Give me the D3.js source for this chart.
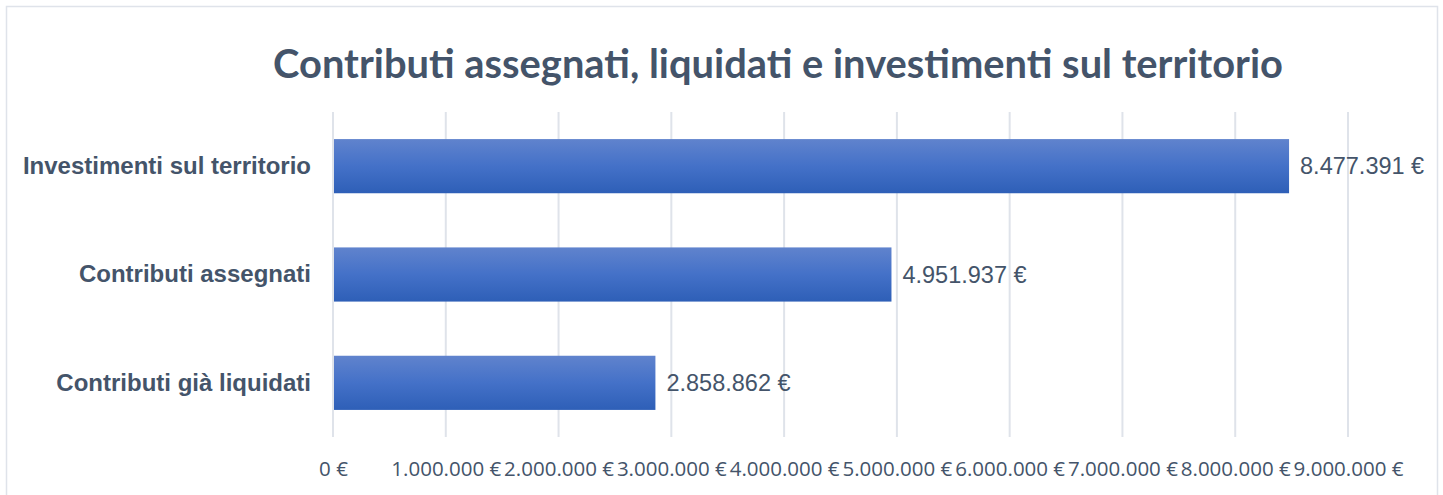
<!DOCTYPE html>
<html>
<head>
<meta charset="utf-8">
<script src="https://cdn.jsdelivr.net/npm/d3@7"></script>
<style>
  html, body { margin: 0; padding: 0; background: #fff; }
  svg { display: block; }
</style>
</head>
<body>
<div id="chart"></div>
<script>
'use strict';

const categories = ['Investimenti sul territorio', 'Contributi assegnati', 'Contributi già liquidati'];
const values = [8477391, 4951937, 2858862];
const tickValues = [0, 1000000, 2000000, 3000000, 4000000, 5000000, 6000000, 7000000, 8000000, 9000000];
const title = 'Contributi assegnati, liquidati e investimenti sul territorio';

const humanNumber = v => v.toString().replace(/\B(?=(\d{3})+(?!\d))/g, '.');
const toEuro = v => `${humanNumber(v)} €`;

const config = { width: 1443, height: 495 };
const margin = { top: 112, right: 95, bottom: 58, left: 333 };
const width = config.width - margin.left - margin.right;
const height = config.height - margin.top - margin.bottom;
const textColour = '#44546a';
const gridColour = '#dfe3ea';

const svg = d3.select('#chart').append('svg')
  .attr('width', config.width)
  .attr('height', config.height);

// gradient for bars
const grad = svg.append('defs').append('linearGradient')
  .attr('id', 'barGrad')
  .attr('x1', 0).attr('y1', 0).attr('x2', 0).attr('y2', 1);
grad.append('stop').attr('offset', '0%').attr('stop-color', '#6083cd');
grad.append('stop').attr('offset', '50%').attr('stop-color', '#4471c8');
grad.append('stop').attr('offset', '100%').attr('stop-color', '#2e5fb7');

// outer border
svg.append('rect')
  .attr('x', 6.5).attr('y', 6.5)
  .attr('width', 1431).attr('height', 495)
  .attr('fill', '#fff')
  .attr('stroke', '#dfe3ea')
  .attr('stroke-width', 1.5);

// title
const titleText = svg.append('text')
  .attr('x', 778)
  .attr('y', 78)
  .attr('text-anchor', 'middle')
  .style('font-family', 'Lato, "Open Sans", sans-serif')
  .style('font-weight', 'bold')
  .style('font-size', '34px')
  .attr('fill', textColour)
  .text(title);
// fit the title width to the reference
const tw = titleText.node().getComputedTextLength();
titleText.style('font-size', `${34 * 1010 / tw}px`);

const x = d3.scaleLinear().domain([0, 9000000]).range([0, width]);
const y = d3.scaleBand().domain(categories).range([0, height]).paddingInner(0.5).paddingOuter(0.25);

const g = svg.append('g').attr('transform', `translate(${margin.left},${margin.top})`);

// gridlines
g.selectAll('.grid')
  .data(tickValues)
  .enter()
  .append('line')
  .attr('class', 'grid')
  .attr('x1', d => x(d)).attr('x2', d => x(d))
  .attr('y1', 0).attr('y2', height)
  .attr('stroke', gridColour)
  .attr('stroke-width', 2);

// x axis labels
g.append('g')
  .attr('transform', `translate(0,${height})`)
  .call(d3.axisBottom(x).tickValues(tickValues).tickSize(0).tickPadding(24).tickFormat(toEuro))
  .call(ax => ax.select('.domain').remove())
  .selectAll('text')
  .style('font-family', '"Open Sans", sans-serif')
  .style('font-size', '20.5px')
  .attr('fill', textColour);

// y axis labels
g.append('g')
  .call(d3.axisLeft(y).tickSize(0).tickPadding(22))
  .call(ax => ax.select('.domain').remove())
  .selectAll('text')
  .style('font-family', '"Liberation Sans", Arial, sans-serif')
  .style('font-weight', 'bold')
  .style('font-size', '24px')
  .attr('fill', textColour);

// bars
const data = categories.map((c, i) => ({ c, v: values[i] }));
g.selectAll('.bar')
  .data(data)
  .enter()
  .append('rect')
  .attr('class', 'bar')
  .attr('x', x(0) + 1)
  .attr('y', d => y(d.c))
  .attr('width', d => x(d.v) - x(0) - 1)
  .attr('height', y.bandwidth())
  .attr('fill', 'url(#barGrad)');

// value labels
g.selectAll('.val')
  .data(data)
  .enter()
  .append('text')
  .attr('class', 'val')
  .attr('x', d => x(d.v) + 11)
  .attr('y', d => y(d.c) + y.bandwidth() / 2)
  .attr('dy', '0.35em')
  .style('font-family', '"Liberation Sans", Arial, sans-serif')
  .style('font-size', '23.5px')
  .attr('fill', textColour)
  .text(d => toEuro(d.v));
</script>
</body>
</html>
